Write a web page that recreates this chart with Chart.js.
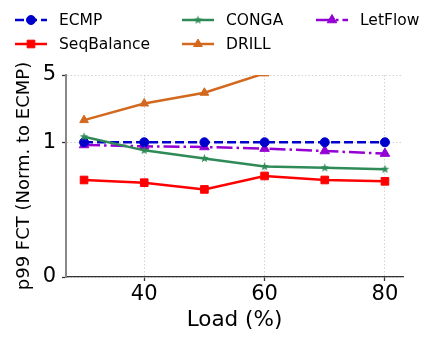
<!DOCTYPE html>
<html>
<head>
<meta charset="utf-8">
<script src="https://cdn.jsdelivr.net/npm/chart.js@4.4.1/dist/chart.umd.min.js"></script>
<style>
    html, body { margin: 0; padding: 0; background: #fff; }
    #wrap { width: 436px; height: 341px; position: relative; }
</style>
</head>
<body>
<div id="wrap"><canvas id="chart" width="436" height="341"></canvas></div>
<script>
// values
const loads = [30, 40, 50, 60, 70, 80];
const ecmp = [1, 1, 1, 1, 1, 1];
const seqBalance = [0.72, 0.70, 0.65, 0.75, 0.72, 0.71];
const conga = [1.14, 0.94, 0.88, 0.82, 0.81, 0.80];
const drill = [1.70, 2.53, 3.27, 5.2, 8, 12];
const letFlow = [0.98, 0.97, 0.965, 0.953, 0.935, 0.916];
const xTicks = [40, 60, 80];
const yTicks = [0, 1, 5];

Chart.defaults.font.family = 'DejaVu Sans';
Chart.defaults.color = '#000';

// linear below 1, log above (like a symlog axis)
const LIN = 1.4;
function symlog(v) { return v <= 1 ? v * LIN : LIN + Math.log10(v); }
function symexp(t) { return t <= LIN ? t / LIN : Math.pow(10, t - LIN); }

class SymlogScale extends Chart.LinearScale {
    buildTicks() {
        return yTicks.map(v => ({ value: v }));
    }
    getPixelForValue(value) {
        const lo = symlog(this.min), hi = symlog(this.max);
        return this.getPixelForDecimal((symlog(value) - lo) / (hi - lo));
    }
    getValueForPixel(pixel) {
        const lo = symlog(this.min), hi = symlog(this.max);
        return symexp(lo + this.getDecimalForPixel(pixel) * (hi - lo));
    }
}
SymlogScale.id = 'symlog';
SymlogScale.defaults = {};
Chart.register(SymlogScale);

function starImage(color, r) {
    const c = document.createElement('canvas');
    const s = Math.ceil(r * 2 + 2);
    c.width = s;
    c.height = s;
    const g = c.getContext('2d');
    g.fillStyle = color;
    g.beginPath();
    for (let i = 0; i < 10; i++) {
        const rad = i % 2 === 0 ? r : r * 0.42;
        const a = -Math.PI / 2 + i * Math.PI / 5;
        const px = s / 2 + rad * Math.cos(a);
        const py = s / 2 + rad * Math.sin(a);
        if (i === 0) g.moveTo(px, py); else g.lineTo(px, py);
    }
    g.closePath();
    g.fill();
    return c;
}

function series(label, data, color, style, radius, dash, order) {
    return {
        label: label,
        data: data,
        borderColor: color,
        backgroundColor: color,
        pointBackgroundColor: color,
        pointBorderColor: color,
        pointBorderWidth: 1,
        borderWidth: 2.5,
        borderDash: dash,
        pointStyle: style,
        pointRadius: radius,
        tension: 0,
        clip: 0,
        order: order
    };
}

// legend laid out in columns, filled top to bottom
const gridLegend = {
    id: 'gridLegend',
    afterDraw(chart) {
        const ctx = chart.ctx;
        const cols = [15, 182, 316];
        const rows = [20, 44];
        chart.data.datasets.forEach((ds, i) => {
            const x = cols[Math.floor(i / 2)];
            const y = rows[i % 2];
            ctx.save();
            ctx.strokeStyle = ds.borderColor;
            ctx.lineWidth = ds.borderWidth;
            ctx.setLineDash(ds.borderDash || []);
            ctx.beginPath();
            ctx.moveTo(x, y);
            ctx.lineTo(x + 32, y);
            ctx.stroke();
            ctx.setLineDash([]);
            ctx.fillStyle = ds.borderColor;
            ctx.lineWidth = 1;
            Chart.helpers.drawPoint(ctx, {
                pointStyle: ds.pointStyle,
                radius: ds.pointRadius,
                rotation: 0,
                borderWidth: 1
            }, x + 16, y);
            ctx.fillStyle = '#000';
            ctx.font = '15.5px "DejaVu Sans"';
            ctx.textBaseline = 'middle';
            ctx.textAlign = 'left';
            ctx.fillText(ds.label, x + 44, y + 1);
            ctx.restore();
        });
    }
};

const ctx = document.getElementById('chart').getContext('2d');
new Chart(ctx, {
    type: 'line',
    data: {
        labels: loads,
        datasets: [
            series('ECMP', ecmp, '#0000CD', 'circle', 4.5, [9, 4], 1),
            series('SeqBalance', seqBalance, '#FF0000', 'rect', 5.4, [], 3),
            series('CONGA', conga, '#2E8B57', starImage('#2E8B57', 4.5), 4.5, [], 0),
            series('DRILL', drill, '#D2691E', 'triangle', 5, [], 4),
            series('LetFlow', letFlow, '#9400D3', 'triangle', 5.5, [16, 4, 2.5, 4], 2)
        ]
    },
    options: {
        responsive: false,
        animation: false,
        parsing: true,
        layout: { padding: { top: 75, right: 33, left: 0, bottom: 0 } },
        plugins: {
            legend: { display: false },
            tooltip: { enabled: false }
        },
        scales: {
            x: {
                type: 'linear',
                min: 27,
                max: 83,
                afterBuildTicks: function(scale) {
                    scale.ticks = xTicks.map(v => ({ value: v }));
                },
                afterFit: function(scale) { scale.height = 64; },
                border: { color: '#333', width: 1.3, dash: [1.5, 2] },
                grid: {
                    color: '#c8c8c8',
                    lineWidth: 0.8,
                    tickColor: '#333',
                    tickLength: 4,
                    tickWidth: 1.3
                },
                ticks: { font: { size: 21 }, color: '#000', padding: 1, maxRotation: 0 },
                title: {
                    display: true,
                    text: 'Load (%)',
                    font: { size: 21.5 },
                    color: '#000',
                    padding: { top: 0, bottom: 8 }
                }
            },
            y: {
                type: 'symlog',
                min: 0,
                max: 5,
                afterFit: function(scale) { scale.width = 66; },
                border: { color: '#888', width: 2, dash: [1.5, 2] },
                grid: {
                    color: '#c8c8c8',
                    lineWidth: 0.8,
                    tickColor: '#333',
                    tickLength: 4,
                    tickWidth: 1.3
                },
                ticks: {
                    font: { size: 21 },
                    color: '#000',
                    padding: 6,
                    callback: function(v) { return String(v); }
                },
                title: {
                    display: true,
                    text: 'p99 FCT (Norm. to ECMP)',
                    font: { size: 18 },
                    color: '#000',
                    padding: 14
                }
            }
        }
    },
    plugins: [gridLegend]
});
</script>
</body>
</html>
